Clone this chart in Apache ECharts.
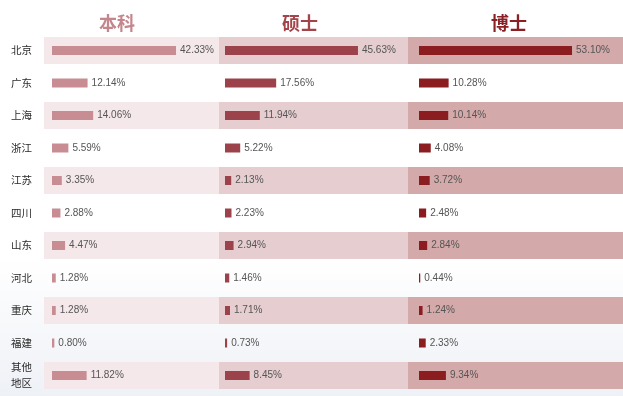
<!DOCTYPE html>
<html>
<head>
<meta charset="utf-8">
<script src="https://cdn.jsdelivr.net/npm/echarts@6/dist/echarts.min.js"></script>
<style>
html,body{margin:0;padding:0;width:623px;height:396px;overflow:hidden;background:#fff;}
#c{width:623px;height:396px;}
</style>
</head>
<body>
<div id="c"></div>
<script>
// ---- data ----
const regions = ['北京','广东','上海','浙江','江苏','四川','山东','河北','重庆','福建','其他地区'];
const columns = ['本科','硕士','博士'];
const undergrad = [42.33,12.14,14.06,5.59,3.35,2.88,4.47,1.28,1.28,0.80,11.82];
const master    = [45.63,17.56,11.94,5.22,2.13,2.23,2.94,1.46,1.71,0.73,8.45];
const doctor    = [53.10,10.28,10.14,4.08,3.72,2.48,2.84,0.44,1.24,2.33,9.34];

// ---- styling ----
const barColors  = ['#c78d92','#9c424a','#8b1c20'];
const bandColors = ['#f5e8ea','#e5cdd0','#d3a9aa'];
const headColors = ['#c4868c','#a3444b','#8a1f24'];
const seriesData = [undergrad, master, doctor];

const TOP = 34.25, HEIGHT = 357.5;
const bandGrids = [
  {left:44,  width:175},
  {left:219, width:189},
  {left:408, width:215}
];
const barGrids = [
  {left:52,  width:146.5, max:50},
  {left:225, width:145.7, max:50},
  {left:419, width:172.9, max:60}
];
const headerX = [112, 295, 504];

const bandFlags = regions.map((r,i)=> i%2===0 ? 1 : '-');

const grid=[], xAxis=[], yAxis=[], series=[];
bandGrids.forEach((g,k)=>{
  grid.push({left:g.left, width:g.width, top:TOP, height:HEIGHT});
  xAxis.push({gridIndex:grid.length-1, type:'value', min:0, max:1, show:false});
  yAxis.push({
    gridIndex:grid.length-1, type:'category', data:regions, inverse:true,
    axisLine:{show:false}, axisTick:{show:false}, splitLine:{show:false},
    axisLabel:{
      show:k===0, margin:12, color:'#2a2a2a', fontSize:10.5, lineHeight:16,
      fontFamily:'"Noto Sans CJK SC", sans-serif',
      formatter:v=> v.length>2 ? v.slice(0,2)+'\n'+v.slice(2) : v
    }
  });
  series.push({
    type:'bar', xAxisIndex:xAxis.length-1, yAxisIndex:yAxis.length-1,
    data:bandFlags, barWidth:27, silent:true,
    itemStyle:{color:bandColors[k]}
  });
});
barGrids.forEach((g,k)=>{
  grid.push({left:g.left, width:g.width, top:TOP, height:HEIGHT});
  xAxis.push({gridIndex:grid.length-1, type:'value', min:0, max:g.max, show:false});
  yAxis.push({gridIndex:grid.length-1, type:'category', data:regions, inverse:true, show:false});
  series.push({
    type:'bar', xAxisIndex:xAxis.length-1, yAxisIndex:yAxis.length-1,
    data:seriesData[k], barWidth:9,
    itemStyle:{color:barColors[k]},
    label:{
      show:true, position:'right', distance:4,
      color:'#555', fontSize:10, fontFamily:'"Liberation Sans", Arial, sans-serif',
      formatter:p=> p.value.toFixed(2)+'%'
    }
  });
});

const chart = echarts.init(document.getElementById('c'), null, {renderer:'canvas'});
chart.setOption({
  animation:false,
  backgroundColor:new echarts.graphic.LinearGradient(0,0,0,1,[
    {offset:0,color:'#ffffff'},{offset:0.65,color:'#ffffff'},{offset:1,color:'#eef1f6'}
  ]),
  title: columns.map((c,k)=>({
    text:c, left:headerX[k], top:9, textAlign:'center',
    textStyle:{color:headColors[k], fontSize:18, fontWeight:'bold',
      fontFamily:'"Noto Sans CJK SC", sans-serif'}
  })),
  grid, xAxis, yAxis, series
});
</script>
</body>
</html>
